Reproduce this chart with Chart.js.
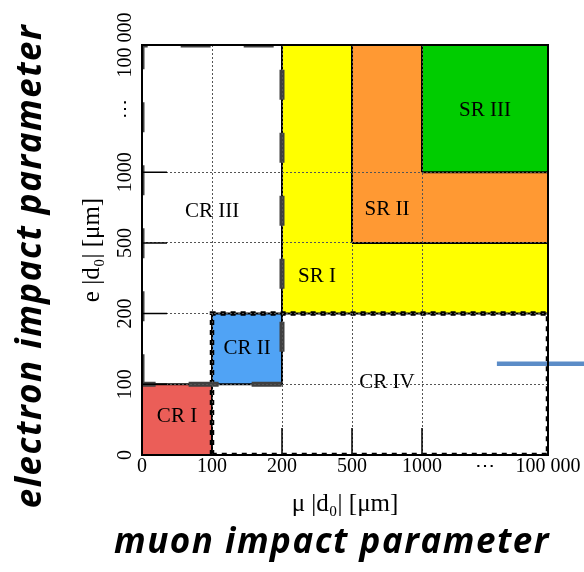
<!DOCTYPE html>
<html>
<head>
<meta charset="utf-8">
<style>
  html, body { margin: 0; padding: 0; background: #ffffff; }
  #wrap { width: 584px; height: 572px; }
</style>
<script src="https://cdn.jsdelivr.net/npm/chart.js@4.4.1/dist/chart.umd.min.js"></script>
</head>
<body>
<div id="wrap"><canvas id="c" width="584" height="572"></canvas></div>
<script>
// ---------------- data ----------------
const muTickLabels = ['0', '100', '200', '500', '1000', '⋯', '100 000'];
const eTickLabels  = ['0', '100', '200', '500', '1000', '⋯', '100 000'];
const regionNames  = ['CR I', 'CR II', 'CR III', 'CR IV', 'SR I', 'SR II', 'SR III'];
const regionMuFrom = ['0',   '100', '0',       '100',     '200',     '500',     '1000'];
const regionMuTo   = ['100', '200', '200',     '100 000', '100 000', '100 000', '100 000'];
const regionEFrom  = ['0',   '100', '100',     '0',       '200',     '500',     '1000'];
const regionETo    = ['100', '200', '100 000', '200',     '100 000', '100 000', '100 000'];

// ---------------- axis layout & styles ----------------
const tickPos = [0, 1, 2, 3, 4, 4.9, 5.8];          // positions of the tick labels on the broken axes
const AXIS_MAX = 5.8;
const labelAnchor = { 'CR I': [0.5, 0.55], 'CR II': [1.5, 1.5], 'CR III': [1, 3.44], 'CR IV': [3.5, 1.02],
                      'SR I': [2.5, 2.52], 'SR II': [3.5, 3.47], 'SR III': [4.9, 4.88] };
const regionStyle = {
  'CR I':   { fill: '#EB5E58', border: '#000000', width: 2,   dash: [] },
  'CR II':  { fill: '#50A3F5', border: '#000000', width: 2,   dash: [] },
  'CR III': { fill: null,      border: '#404040', width: 5,   dash: [30, 33], clip: 0 },
  'CR IV':  { fill: null,      border: '#000000', width: 4.5, dash: [5, 5],   clip: 0 },
  'SR I':   { fill: '#FFFF00', border: '#000000', width: 2,   dash: [] },
  'SR II':  { fill: '#FF9933', border: '#000000', width: 2,   dash: [] },
  'SR III': { fill: '#00CC00', border: '#000000', width: 2,   dash: [] }
};
const fillOrder = ['CR I', 'CR II', 'SR I', 'SR II', 'SR III'];
const borderOrder = ['CR I', 'CR II', 'SR I', 'SR II', 'SR III', 'CR IV', 'CR III'];
const arrowSpan = { x0: 5.07, x1: 6.6, y: 1.29 };

const SERIF = '"Liberation Serif", "Times New Roman", serif';
Chart.defaults.font.family = SERIF;
Chart.defaults.color = '#000000';

const mc = document.createElement('canvas').getContext('2d');
mc.font = '20px ' + SERIF;
const widestTick = mc.measureText('100 000').width;

// ---------------- datasets ----------------
const posOf = (labels, l) => tickPos[labels.indexOf(l)];
const rects = {};
regionNames.forEach((n, i) => {
  rects[n] = {
    x0: posOf(muTickLabels, regionMuFrom[i]), x1: posOf(muTickLabels, regionMuTo[i]),
    y0: posOf(eTickLabels, regionEFrom[i]),   y1: posOf(eTickLabels, regionETo[i])
  };
});
const datasets = [];
const add = ds => {
  ds.type = 'line';
  ds.order = -datasets.length;
  ds.pointRadius = 0;
  ds.pointHoverRadius = 0;
  datasets.push(ds);
};
fillOrder.forEach(n => {
  const r = rects[n], s = regionStyle[n];
  add({ label: n + ' area', data: [{ x: r.x0, y: r.y1 }, { x: r.x1, y: r.y1 }],
        fill: { value: r.y0 }, backgroundColor: s.fill, borderColor: 'rgba(0,0,0,0)', borderWidth: 0 });
});
borderOrder.forEach(n => {
  const r = rects[n], s = regionStyle[n];
  const ds = { label: n, data: [{ x: r.x0, y: r.y0 }, { x: r.x0, y: r.y1 }, { x: r.x1, y: r.y1 },
                                 { x: r.x1, y: r.y0 }, { x: r.x0, y: r.y0 }],
               fill: false, borderColor: s.border, borderWidth: s.width, borderDash: s.dash,
               borderCapStyle: 'butt', borderJoinStyle: 'miter' };
  if (s.clip !== undefined) ds.clip = s.clip;
  add(ds);
});
add({ label: 'arrow', data: [{ x: arrowSpan.x0, y: arrowSpan.y }, { x: arrowSpan.x1, y: arrowSpan.y }],
      fill: false, borderColor: '#5B8CC7', borderWidth: 4.5, borderCapStyle: 'butt', clip: false });

const gridColor = labels => ctx => {
  const i = ctx.index;
  return (i > 0 && i < labels.length - 1 && labels[i] !== '⋯') ? '#555555' : 'rgba(0,0,0,0)';
};

// ---------------- overlay plugin ----------------
const overlay = {
  id: 'overlay',
  afterDatasetsDraw(chart) {
    const { ctx, scales: { x, y } } = chart;
    ctx.save();
    ctx.font = '21px ' + SERIF;
    ctx.fillStyle = '#000';
    ctx.textAlign = 'center';
    ctx.textBaseline = 'middle';
    regionNames.forEach(n => {
      const a = labelAnchor[n];
      ctx.fillText(n, x.getPixelForValue(a[0]), y.getPixelForValue(a[1]));
    });
    ctx.restore();
  },
  afterDraw(chart) {
    const { ctx, chartArea: ca, scales: { x, y } } = chart;
    ctx.save();
    // inner tick marks
    ctx.strokeStyle = '#000';
    ctx.lineWidth = 1.5;
    ctx.beginPath();
    muTickLabels.forEach((l, i) => {
      if (i === 0 || i === muTickLabels.length - 1 || l === '⋯') return;
      const px = x.getPixelForValue(tickPos[i]);
      ctx.moveTo(px, ca.bottom); ctx.lineTo(px, ca.bottom - 27);
    });
    eTickLabels.forEach((l, i) => {
      if (i === 0 || i === eTickLabels.length - 1 || l === '⋯') return;
      const py = y.getPixelForValue(tickPos[i]);
      ctx.moveTo(ca.left, py); ctx.lineTo(ca.left + 25, py);
    });
    ctx.stroke();
    // frame
    ctx.lineWidth = 2;
    ctx.strokeRect(ca.left, ca.top, ca.right - ca.left, ca.bottom - ca.top);
    // outer labels
    ctx.font = 'italic bold 35px "Open Sans", "DejaVu Sans", sans-serif';
    if ('letterSpacing' in ctx) ctx.letterSpacing = '1.5px';
    ctx.fillStyle = '#000';
    ctx.textAlign = 'center';
    ctx.textBaseline = 'middle';
    ctx.fillText('muon impact parameter', ca.left + 190, ca.bottom + 88);
    ctx.translate(ca.left - 111, ca.top + 221);
    ctx.rotate(-Math.PI / 2);
    ctx.fillText('electron impact parameter', 0, 0);
    ctx.restore();
  }
};

new Chart(document.getElementById('c'), {
  type: 'line',
  data: { datasets },
  options: {
    responsive: false,
    animation: false,
    events: [],
    layout: { padding: { left: 64, top: 45, right: 36, bottom: 47 } },
    plugins: { legend: { display: false }, tooltip: { enabled: false } },
    scales: {
      x: {
        type: 'linear', min: 0, max: AXIS_MAX,
        afterBuildTicks: s => { s.ticks = tickPos.map(v => ({ value: v })); },
        afterFit: s => { s.height = 70; },
        ticks: { autoSkip: false, maxRotation: 0, minRotation: 0, padding: 0, font: { size: 20 },
                 callback: (v, i) => muTickLabels[i] },
        grid: { drawTicks: false, color: gridColor(muTickLabels), lineWidth: 1, z: 1 },
        border: { display: false, dash: [2, 2] },
        title: { display: true, text: 'μ |d₀| [μm]', font: { size: 25 }, padding: { top: 0, bottom: 6 } }
      },
      y: {
        type: 'linear', min: 0, max: AXIS_MAX,
        afterBuildTicks: s => { s.ticks = tickPos.map(v => ({ value: v })); },
        afterFit: s => { s.width = 78; },
        ticks: { autoSkip: false, minRotation: 90, maxRotation: 90, crossAlign: 'center',
                 padding: 16 - widestTick / 2, font: { size: 20 },
                 callback: (v, i) => eTickLabels[i] },
        grid: { drawTicks: false, color: gridColor(eTickLabels), lineWidth: 1, z: 1 },
        border: { display: false, dash: [2, 2] },
        title: { display: true, text: 'e |d₀| [μm]', font: { size: 25 }, padding: { top: 13, bottom: 0 } }
      }
    }
  },
  plugins: [overlay]
});
</script>
</body>
</html>
